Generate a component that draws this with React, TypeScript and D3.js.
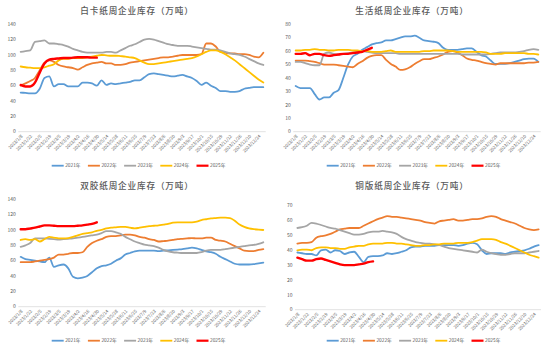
import React from "react";
import * as d3 from "d3";

// Category labels (weekly, labelled every other week)
const weekLabels: string[] = [
  "2023/1/8","2023/1/22","2023/2/5","2023/2/19","2023/3/5","2023/3/19","2023/4/2","2023/4/16","2023/4/30",
  "2023/5/14","2023/5/28","2023/6/11","2023/6/25","2023/7/9","2023/7/23","2023/8/6","2023/8/20","2023/9/3",
  "2023/9/17","2023/10/1","2023/10/15","2023/10/29","2023/11/12","2023/11/26","2023/12/10","2023/12/24",
];
const seriesNames = ["2021年", "2022年", "2023年", "2024年", "2025年"];
const seriesColors = ["#5B9BD5", "#ED7D31", "#A5A5A5", "#FFC000", "#FF0000"];

// 白卡纸
const bk2021 = [51,50.5,50,50,56,70,72,59,62,62,59,59,59,64,64,63,60,67,61,63,62,63,64,65,67,67,71,75,76,75,74,73,72,73,74,72,70,66,61,64,60,57,53,53,52,52,53,56,57,58,58,58];
const bk2022 = [60,63,66,70,80,90,93,91,87,85,84,83,81,84,87,89,90,91,89,89,87,87,88,90,91,92,93,94,95,96,97,97,98,99,100,100,100,100,101,115,115,111,104,103,102,102,101,101,100,98,97,103];
const bk2023 = [104,105,106,117,118,119,115,115,114,113,111,108,106,104,103,103,103,103,104,104,103,106,109,112,114,117,120,121,120,118,116,114,113,112,112,112,111,110,109,108,107,107,106,104,102,101,100,98,95,92,89,87];
const bk2024 = [85,84,83.5,83,83,84,86,88,93,95,95,96,96,96,97,98,99,100,99.5,99,99,98.5,98,97,96,93,90,88,88,89,90,91,92,93,94,95,96,98,101,104,106,106,104,101,97,93,88,83,78,73,68,64];
const bk2025 = [61,59,59,64,77,89,94,95,95.5,96,96,96.5,97,97,97,96.5,96.5];

// 生活纸
const sh2021 = [34,32.5,32.5,32.5,28,24,25.5,25.5,29,31,40,50,56,58,61,63,65,66,66.5,68,68,69,70,71,71,71.5,70,68,67.5,67,66,62.5,61,61,61,61.5,62,62,59.5,57,56,53,50.5,50.5,50.5,51,52,53,54,54.5,54.5,52];
const sh2022 = [53,53,53,52.5,52,51,50,50,50,49.5,49,48.5,48,50.5,52.5,55,56.5,57,57,53.5,50.5,48.5,46,46.5,48,50.5,52.5,54,54,55,56,57.5,59.5,60,59,57,54.5,53.5,53,52,51,50.5,50,51,51,51,51,51,51,51.5,51.5,52];
const sh2023 = [52,52,51,50,49.5,49.5,58,59,58,57.5,58,58.5,59,59.5,60,59.5,59,58.5,58.5,58.5,58.5,58.5,58,58,58,58,58,58,58,58,58,58,58,58,58,57.5,57.5,57.5,57.5,57.5,57.5,58,58.5,59,59,59,59,59.5,60,61,61.5,61];
const sh2024 = [60.5,60.5,61,61,61.5,61,61,60.5,60.5,61,61,61,60.5,60.5,60,60,59.5,59.5,59.5,60,60.5,59.5,59.5,59.5,59.5,59.5,59.5,60,60,60.5,60.5,60.5,60.5,60,59.5,59.5,59.5,59.5,59.5,59.5,59,58,58,58,58.5,58.5,58.5,58.5,58.5,58,58,57.5];
const sh2025 = [58,58,58.5,57,58,58,57,56.5,57,57.5,58,58,58.5,59,59.5,61,62.5];

// 双胶纸
const sj2021 = [65,62,61,60,59,58,64,52,54,55,50,39,37,38,40,45,50,53,54,56,60,63,68,70,72,73,73,73,73,72.5,73,73.5,74,74.5,75,76,77,76,74,72,71,69,65,62,59,56,55,55,55,55.5,56.5,57.5];
const sj2022 = [58,58,58,59,60,61,62,64,68,68,69,70,70,71,78,83,86,88,91,92,92,93,94,94,93,91,90,88,87,85,85.5,86,87,88,88.5,89,89.5,89,89,90,90,87,86,85,82,79,76,73,72.5,72.5,74,75];
const sj2023 = [78,80,83,89,89,89,88.5,88,87.5,88,88.5,89,90,91,92,93,94,96,98.5,98.5,97,95,91,88,85,83,81,80,79,77,74,72,71,70.5,70,70,70,70,71,73,74,74,74,75,76,77,78,79,80,80.5,82,84];
const sj2024 = [87,88,87,88,85,88,91,90,89,89,89.5,91,93,95,96,97,99,100,102,103,103.5,104,104,103,102,103,104,105,105.5,106,107,108,109.5,110,110,110,110,111,113,114,115,115.5,116,116,115.5,112,107,104,102,101,100.5,100];
const sj2025 = [101,101,102,103,104.5,106,106,105.5,105,105,105,105,105.5,106,107,108,110];

// 铜版纸
const tb2021 = [38.5,38,37.5,37.5,36.5,40,40.5,38.5,40,39.5,37.5,38.5,39,35.5,32,35.5,36,36,36.5,38,37.5,38,39,40,42,42.5,42.5,43,43,43,43.5,43.5,43.5,43.5,43,43.5,44.5,45,44,40,37.5,38,38,38,37.5,38.5,39,39.5,40,41,42.5,43.5];
const tb2022 = [44.5,45,45,45.5,48.5,49.5,50,51,52.5,54,54.5,55,55,55,56.5,58,59.5,61,62,63,62.5,62.5,62,61.5,61,60.5,60,59,58.5,58,59.5,60,60.5,61,60,60,60.5,61,61,61.5,62.5,63,62.5,61,60,59,58,56.5,55,54,53.5,54];
const tb2023 = [55,55.5,56.5,58.5,58,57,56,55,54.5,53.5,52.5,51.5,50.5,50.5,51,52,52.5,52.5,53,52.5,52,51,49,47.5,46.5,45.5,45,44.5,44.5,44,43.5,42.5,41.5,41,40.5,40,39.5,39,38.5,40.5,39,38,37.5,37,37,37.5,38,38,38,38.5,39,39.5];
const tb2024 = [40,40.5,40.5,40,41.5,42,42,41.5,41.5,41,41,42,42.5,43,43,44,44.5,44.5,44.5,45,45,44.5,44.5,44,43.5,43,43,43.5,43.5,44,44,44.5,44.5,44.5,45,45,45,45.5,46.5,47.5,47.5,47.5,47,45.5,44.5,43,41.5,40,38.5,37,36,35];
const tb2025 = [35,34,33,33,34,34.5,33.5,32.5,31.5,30.5,30,30,30,30.5,31,32,32.5];

const yTicks1 = [0, 20, 40, 60, 80, 100, 120, 140];
const yTicks2 = [0, 10, 20, 30, 40, 50, 60, 70, 80];
const yTicks4 = [0, 10, 20, 30, 40, 50, 60, 70];

const N = 52;
const categories = d3.range(N);

type PanelDef = {
  title: string;
  ox: number; oy: number;
  left: number; right: number; top: number; bottom: number;
  yMax: number; ticks: number[];
  series: number[][];
};

const panels: PanelDef[] = [
  { title: "白卡纸周企业库存（万吨）", ox: 0, oy: 0, left: 18.3, right: 265.7, top: 24.3, bottom: 131.7, yMax: 140, ticks: yTicks1, series: [bk2021, bk2022, bk2023, bk2024, bk2025] },
  { title: "生活纸周企业库存（万吨）", ox: 275, oy: 0, left: 18.3, right: 265.7, top: 24.3, bottom: 131.7, yMax: 80, ticks: yTicks2, series: [sh2021, sh2022, sh2023, sh2024, sh2025] },
  { title: "双胶纸周企业库存（万吨）", ox: 0, oy: 175, left: 18.3, right: 265.7, top: 24.3, bottom: 131.7, yMax: 140, ticks: yTicks1, series: [sj2021, sj2022, sj2023, sj2024, sj2025] },
  { title: "铜版纸周企业库存（万吨）", ox: 275, oy: 175, left: 20, right: 266, top: 30.7, bottom: 134.7, yMax: 70, ticks: yTicks4, series: [tb2021, tb2022, tb2023, tb2024, tb2025] },
];

const FONT = "'Noto Sans CJK SC', 'Noto Sans', sans-serif";
const TXT = "#595959";

function Panel({ p }: { p: PanelDef }) {
  const x = d3.scaleBand<number>().domain(categories).range([p.left, p.right]);
  const y = d3.scaleLinear().domain([0, p.yMax]).range([p.bottom, p.top]);
  const cx = (i: number) => (x(i) as number) + x.bandwidth() / 2;
  const line = d3.line<number>().x((_, i) => cx(i)).y((v) => y(v)).curve(d3.curveMonotoneX);
  const legendX0 = 51.7;
  const legendStep = 36.2;
  const legendY = 165.7;
  return (
    <g transform={`translate(${p.ox},${p.oy})`}>
      <text x={137} y={14.3} textAnchor="middle" fontFamily={FONT} fontSize={8.6} letterSpacing={0.85} fontWeight={500} fill={TXT}>{p.title}</text>
      {p.ticks.map((t) => (
        <text key={t} x={p.left - 2.5} y={y(t) + 1.7} textAnchor="end" fontFamily={FONT} fontSize={5} fill={TXT}>{t}</text>
      ))}
      <line x1={p.left} x2={p.right} y1={p.bottom} y2={p.bottom} stroke="#D9D9D9" strokeWidth={0.8} />
      {weekLabels.map((lab, k) => {
        const i = k * 2;
        const tx = cx(i) + 1.5;
        const ty = p.bottom + 4;
        return (
          <text key={lab} x={tx} y={ty} transform={`rotate(-45 ${tx} ${ty})`} textAnchor="end" fontFamily={FONT} fontSize={4.4} fill={TXT} dominantBaseline="middle">{lab}</text>
        );
      })}
      {p.series.map((s, si) => (
        <path key={si} d={line(s) || ""} fill="none" stroke={seriesColors[si]} strokeWidth={si === 4 ? 2.4 : 1.8} strokeLinejoin="round" strokeLinecap="round" />
      ))}
      {seriesNames.map((nm, si) => {
        const lx = legendX0 + si * legendStep;
        return (
          <g key={nm}>
            <line x1={lx} x2={lx + 12} y1={legendY} y2={legendY} stroke={seriesColors[si]} strokeWidth={si === 4 ? 2.2 : 1.8} />
            <text x={lx + 13.5} y={legendY + 1.7} fontFamily={FONT} fontSize={4.8} fill={TXT}>{nm}</text>
          </g>
        );
      })}
    </g>
  );
}

export default function App() {
  return (
    <svg width={550} height={351} style={{ position: "absolute", left: 0, top: 0, background: "#fff" }}>
      <rect x={0} y={0} width={550} height={351} fill="#fff" />
      {panels.map((p) => (
        <Panel key={p.title} p={p} />
      ))}
    </svg>
  );
}
